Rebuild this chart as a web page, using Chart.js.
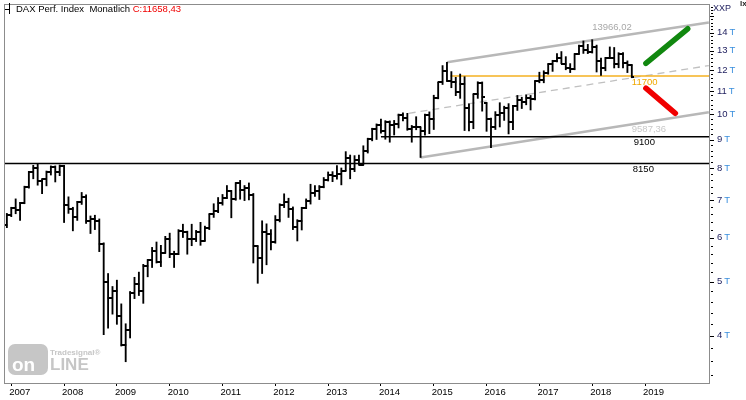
<!DOCTYPE html>
<html>
<head>
<meta charset="utf-8">
<script src="https://cdn.jsdelivr.net/npm/chart.js@4.4.1/dist/chart.umd.min.js"></script>
<style>
  html, body { margin: 0; padding: 0; background: #fff; }
  canvas { display: block; }
</style>
</head>
<body>
<canvas id="dax" width="746" height="400"></canvas>
<script>
// monthly bars, Dec 2006 .. Oct 2018  (month 0 = Jan 2007)
var firstMonth = -1;

var open = [6309,
  6597, 6789, 6715, 6917, 7409, 7883, 8007, 7584, 7638, 7862, 8019, 7871,
  8067, 6851, 6748, 6535, 6949, 7097, 6418, 6479, 6422, 5831, 4988, 4669,
  4810, 4338, 3844, 4085, 4770, 4941, 4809, 5332, 5465, 5675, 5415, 5625,
  5957, 5608, 5598, 6154, 6136, 5964, 5966, 6148, 5925, 6229, 6601, 6688,
  6914, 7077, 7273, 7041, 7514, 7294, 7376, 7159, 5785, 5502, 6141, 6089,
  5898, 6458, 6856, 6947, 6761, 6264, 6416, 6772, 6970, 7216, 7260, 7406,
  7612, 7776, 7742, 7795, 7914, 8349, 7959, 8276, 8104, 8594, 9033, 9406,
  9552, 9306, 9692, 9556, 9603, 9943, 9833, 9407, 9470, 9474, 9327, 9981,
  9806, 10694, 11402, 11966, 11454, 11414, 10945, 11309, 10259, 9660, 10850, 11382,
  10485, 9798, 9495, 9966, 10039, 10263, 9680, 10337, 10593, 10511, 10665, 10640,
  11481, 11535, 11834, 12313, 12438, 12615, 12325, 12118, 12056, 12829, 13230, 13024,
  12918, 13189, 12436, 12097, 12612, 12605, 12306, 12806, 12364, 12247];

var high = [6630,
  6800, 7040, 6940, 7420, 7890, 8090, 8152, 7650, 7900, 8070, 8070, 8100,
  8090, 7100, 6800, 6970, 7230, 7160, 6560, 6580, 6480, 5870, 5170, 4900,
  5030, 4560, 4200, 4800, 5090, 5200, 5370, 5480, 5760, 5890, 5810, 6030,
  6110, 5670, 6200, 6340, 6160, 6340, 6180, 6390, 6290, 6620, 6900, 7080,
  7170, 7440, 7290, 7530, 7600, 7440, 7520, 7200, 5800, 6430, 6350, 6200,
  6570, 6900, 7190, 7060, 6810, 6460, 6800, 7040, 7480, 7440, 7440, 7690,
  7870, 7880, 8080, 8000, 8560, 8440, 8420, 8440, 8770, 9050, 9430, 9600,
  9790, 9730, 9720, 9740, 10000, 10050, 10030, 9540, 9890, 9480, 10000, 10090,
  10810, 11410, 12220, 12390, 11920, 11640, 11800, 11670, 10430, 10870, 11430, 11420,
  10490, 9830, 10100, 10480, 10330, 10440, 10370, 10800, 10720, 10830, 10800, 11490,
  11890, 11960, 12320, 12490, 12840, 12950, 12680, 12320, 12840, 13300, 13530, 13340,
  13600, 13300, 12600, 12640, 13200, 13170, 12890, 12890, 12460, 12270];

var low = [6250,
  6540, 6620, 6437, 6900, 7360, 7650, 7450, 7190, 7430, 7770, 7550, 7750,
  6384, 6630, 6168, 6440, 6880, 6360, 6100, 6200, 5660, 4014, 4124, 4370,
  4190, 3830, 3589, 3960, 4660, 4720, 4570, 5100, 5300, 5400, 5320, 5620,
  5520, 5300, 5590, 6000, 5600, 5800, 5900, 5810, 5910, 6200, 6520, 6650,
  6860, 7050, 6510, 7000, 7030, 6990, 7010, 5400, 4965, 5170, 5360, 5700,
  5860, 6400, 6790, 6520, 6200, 5915, 6190, 6760, 6890, 7110, 7020, 7370,
  7580, 7560, 7640, 7460, 7900, 7650, 7880, 8100, 8100, 8510, 8950, 9000,
  9240, 9010, 8900, 9170, 9440, 9720, 9350, 8900, 9370, 8355, 9160, 9220,
  9380, 10650, 11300, 11450, 11150, 10790, 10670, 9340, 9330, 9410, 10670, 10120,
  9310, 8700, 9380, 9480, 9740, 9210, 9370, 10150, 10230, 10390, 10170, 10600,
  11380, 11380, 11790, 11930, 12400, 12320, 12010, 11870, 12010, 12800, 12850, 12840,
  12870, 11900, 11730, 11960, 12580, 12100, 12110, 12100, 11870, 11620];

var close = [6597,
  6789, 6715, 6917, 7409, 7883, 8007, 7584, 7638, 7862, 8019, 7871, 8067,
  6851, 6748, 6535, 6949, 7097, 6418, 6479, 6422, 5831, 4988, 4669, 4810,
  4338, 3844, 4085, 4770, 4941, 4809, 5332, 5465, 5675, 5415, 5625, 5957,
  5608, 5598, 6154, 6136, 5964, 5966, 6148, 5925, 6229, 6601, 6688, 6914,
  7077, 7273, 7041, 7514, 7294, 7376, 7159, 5785, 5502, 6141, 6089, 5898,
  6458, 6856, 6947, 6761, 6264, 6416, 6772, 6970, 7216, 7260, 7406, 7612,
  7776, 7742, 7795, 7914, 8349, 7959, 8276, 8104, 8594, 9033, 9406, 9552,
  9306, 9692, 9556, 9603, 9943, 9833, 9407, 9470, 9474, 9327, 9981, 9806,
  10694, 11402, 11966, 11454, 11414, 10945, 11309, 10259, 9660, 10850, 11382, 10743,
  9798, 9495, 9966, 10039, 10263, 9680, 10337, 10593, 10511, 10665, 10640, 11481,
  11535, 11834, 12313, 12438, 12615, 12325, 12118, 12056, 12829, 13230, 13024, 12918,
  13189, 12436, 12097, 12612, 12605, 12306, 12806, 12364, 12247, 11658];

var yearTicks = [2007, 2008, 2009, 2010, 2011, 2012, 2013, 2014, 2015, 2016, 2017, 2018, 2019];
var priceTicks = [4000, 5000, 6000, 7000, 8000, 9000, 10000, 11000, 12000, 13000, 14000];

// drawn lines: [month, value] pairs
var level8150 = [[-2, 8150], [160, 8150]];
var level9100 = [[84, 9100], [160, 9100]];
var level11700 = [[99.8, 11700], [160, 11700]];
var channelTop = [[99, 12390], [158.5, 14600]];
var channelBottom = [[93, 8355], [158.5, 10070]];
var channelMid = [[87.6, 9950], [158.5, 12220]];
var arrowUp = [[144.2, 12330], [153.7, 14230]];
var arrowDown = [[144.2, 11130], [150.9, 10030]];

var xMin = -1.423, xMax = 158.54;
var yMin = 3287, yMax = 15700;
var lastClose = 11658.43;

var months = close.map(function (c, i) { return firstMonth + i; });
var FONT = "'Liberation Sans', Arial, sans-serif";

function tickImage(side) {
  var c = document.createElement('canvas');
  c.width = 5; c.height = 2;
  var g = c.getContext('2d');
  g.fillStyle = '#000';
  if (side === 'left') g.fillRect(0, 0, 3, 2); else g.fillRect(2, 0, 3, 2);
  return c;
}

function pts(list) {
  return list.map(function (p) { return { x: p[0], y: p[1] }; });
}

function lineSet(list, color, width, extra) {
  var ds = {
    type: 'line', data: pts(list), borderColor: color, borderWidth: width,
    pointRadius: 0, fill: false, order: 2
  };
  for (var k in extra) ds[k] = extra[k];
  return ds;
}

var decor = {
  id: 'decor',
  beforeDatasetsDraw: function (chart) {
    var ctx = chart.ctx;
    // watermark
    ctx.save();
    ctx.fillStyle = '#c6c6c6';
    ctx.beginPath();
    ctx.roundRect(8, 344, 40, 31, 7);
    ctx.fill();
    ctx.fillStyle = '#fff';
    ctx.font = 'bold 19px ' + FONT;
    ctx.textBaseline = 'alphabetic';
    ctx.fillText('on', 12, 371);
    ctx.fillStyle = '#c6c6c6';
    ctx.font = 'bold 17px ' + FONT;
    ctx.fillText('LINE', 50, 370);
    ctx.font = 'bold 8px ' + FONT;
    ctx.fillText('Tradesignal\u00ae', 50, 355);
    ctx.restore();
  },
  afterDraw: function (chart) {
    var ctx = chart.ctx, a = chart.chartArea;
    var xs = chart.scales.x, ys = chart.scales.y;
    ctx.save();
    // frame
    ctx.strokeStyle = '#8c8c8c';
    ctx.lineWidth = 1;
    ctx.strokeRect(a.left - 0.5, a.top - 0.5, a.right - a.left + 1, a.bottom - a.top + 1);

    // price axis
    ctx.strokeStyle = '#000';
    ctx.fillStyle = '#000';
    for (var v = 3400; v <= 15600; v += 200) {
      var py = Math.round(ys.getPixelForValue(v)) + 0.5;
      ctx.beginPath();
      if (v % 1000 === 0) { ctx.moveTo(a.right + 1, py); ctx.lineTo(a.right + 5, py); }
      else { ctx.moveTo(a.right + 2, py); ctx.lineTo(a.right + 4, py); }
      ctx.stroke();
    }
    ctx.font = '9.5px ' + FONT;
    ctx.textBaseline = 'middle';
    ctx.textAlign = 'left';
    priceTicks.forEach(function (t) {
      var py = ys.getPixelForValue(t);
      var num = String(t / 1000);
      ctx.fillStyle = '#1c1c5c';
      ctx.fillText(num, a.right + 8, py);
      ctx.fillStyle = '#3a8fdd';
      ctx.fillText('T', a.right + 8 + ctx.measureText(num).width + 2, py);
    });
    ctx.fillStyle = '#1c1c5c';
    ctx.font = '9px ' + FONT;
    ctx.fillText('XXP', a.right + 4, 9);
    ctx.fillStyle = '#222';
    ctx.font = 'bold 8px ' + FONT;
    ctx.fillText('lx', 740, 4);

    // title
    ctx.strokeStyle = '#000';
    ctx.beginPath();
    ctx.moveTo(9.5, 3); ctx.lineTo(9.5, 14);
    ctx.moveTo(5, 9.5); ctx.lineTo(9.5, 9.5);
    ctx.stroke();
    ctx.font = '9.5px ' + FONT;
    ctx.fillStyle = '#000';
    var title = 'DAX Perf. Index  Monatlich ';
    ctx.fillText(title, 16, 9);
    ctx.fillStyle = '#f00000';
    ctx.fillText('C:' + lastClose.toFixed(2).replace('.', ','), 16 + ctx.measureText(title).width, 9);

    // level labels at the last bar
    var lx = xs.getPixelForValue(months[months.length - 1]);
    ctx.fillStyle = '#000';
    ctx.fillText('8150', lx + 1, ys.getPixelForValue(8150) + 6);
    ctx.fillText('9100', lx + 2, ys.getPixelForValue(9100) + 6);
    ctx.fillStyle = '#f0a800';
    ctx.fillText('11700', lx, ys.getPixelForValue(11700) + 6);
    ctx.fillStyle = '#c8c8c8';
    ctx.fillText('9587,36', lx, ys.getPixelForValue(9587.36) + 5.5);
    ctx.fillStyle = '#a8a8a8';
    ctx.textAlign = 'right';
    ctx.fillText('13966,02', lx, ys.getPixelForValue(13966.02) - 6);
    ctx.restore();
  }
};

var ctx = document.getElementById('dax').getContext('2d');
var chart = new Chart(ctx, {
  type: 'bar',
  data: {
    datasets: [
      {
        type: 'bar',
        data: months.map(function (m, i) { return { x: m, y: [low[i], high[i]] }; }),
        backgroundColor: '#000', barThickness: 1.2, grouped: false, order: 0
      },
      {
        type: 'scatter',
        data: months.map(function (m, i) { return { x: m, y: open[i] }; }),
        pointStyle: tickImage('left'), pointRadius: 3, order: 0
      },
      {
        type: 'scatter',
        data: months.map(function (m, i) { return { x: m, y: close[i] }; }),
        pointStyle: tickImage('right'), pointRadius: 3, order: 0
      },
      lineSet(level8150, '#000', 1.5),
      lineSet(level9100, '#000', 1.5),
      lineSet(level11700, '#f5b120', 1.5),
      lineSet(channelTop, '#b8b8b8', 2.5),
      lineSet(channelBottom, '#b8b8b8', 2.5),
      lineSet(channelMid, '#c0c0c0', 1.3, { borderDash: [7, 5] }),
      lineSet(arrowUp, '#11880f', 5.5, { borderCapStyle: 'round', order: 1 }),
      lineSet(arrowDown, '#f00000', 5.5, { borderCapStyle: 'round', order: 1 })
    ]
  },
  options: {
    responsive: false,
    animation: false,
    events: [],
    layout: { padding: { left: 1, top: 1, right: 37, bottom: 0 } },
    plugins: { legend: { display: false }, tooltip: { enabled: false } },
    scales: {
      x: {
        type: 'linear', min: xMin, max: xMax, offset: false,
        afterBuildTicks: function (s) {
          s.ticks = yearTicks.map(function (y) { return { value: (y - 2007) * 12 }; });
        },
        afterFit: function (s) { s.height = 17; },
        grid: { drawOnChartArea: false, offset: false, tickLength: 3, color: '#000', lineWidth: 1 },
        border: { display: false },
        ticks: {
          align: 'start', labelOffset: -2, padding: 1, maxRotation: 0, autoSkip: false,
          color: '#000', font: { family: FONT, size: 9.5 },
          callback: function (v, i) { return String(yearTicks[i]); }
        }
      },
      y: { type: 'logarithmic', display: false, min: yMin, max: yMax }
    }
  },
  plugins: [decor]
});
</script>
</body>
</html>
